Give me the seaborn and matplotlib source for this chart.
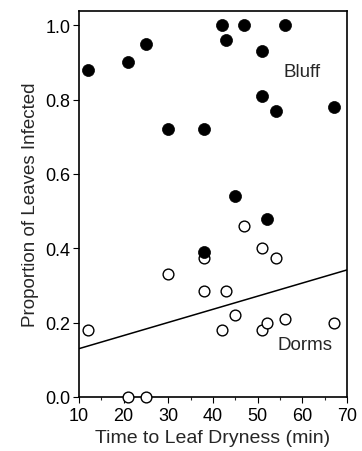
import pandas as pd
import matplotlib
matplotlib.use("Agg")
import matplotlib.pyplot as plt
import seaborn as sns
from matplotlib.ticker import MultipleLocator

# Bluff site (filled circles)
bluff_time = [12, 21, 25, 30, 38, 42, 43, 47, 56, 51, 51, 54, 67, 45, 52, 38]
bluff_prop = [0.88, 0.90, 0.95, 0.72, 0.72, 1.0, 0.96, 1.0, 1.0, 0.93, 0.81, 0.77, 0.78, 0.54, 0.48, 0.39]

# Dorms site (open circles)
dorms_time = [12, 21, 25, 30, 38, 38, 43, 42, 45, 47, 51, 54, 51, 52, 56, 67]
dorms_prop = [0.18, 0.0, 0.0, 0.33, 0.375, 0.285, 0.285, 0.18, 0.22, 0.46, 0.40, 0.375, 0.18, 0.20, 0.21, 0.20]

# regression line for Dorms
fit_x = [10, 70]
fit_y = [0.13, 0.342]

bluff = pd.DataFrame({"time": bluff_time, "prop": bluff_prop})
dorms = pd.DataFrame({"time": dorms_time, "prop": dorms_prop})

sns.set_style("ticks")
plt.rcParams["font.family"] = ["Liberation Sans", "DejaVu Sans"]

fig = plt.figure(figsize=(3.62, 4.52), dpi=100)
ax = fig.add_axes([0.218, 0.1195, 0.741, 0.8535])

sns.lineplot(x=fit_x, y=fit_y, ax=ax, color="black", linewidth=1.1)
sns.scatterplot(data=dorms, x="time", y="prop", ax=ax, s=60, facecolor="white",
                edgecolor="black", linewidth=1.0, zorder=3)
sns.scatterplot(data=bluff, x="time", y="prop", ax=ax, s=75, color="black",
                edgecolor="black", linewidth=0.5, zorder=4)

ax.text(60, 0.877, "Bluff", fontsize=13.5, ha="center", va="center")
ax.text(60.6, 0.142, "Dorms", fontsize=13.5, ha="center", va="center")

ax.set_xlim(10, 70)
ax.set_ylim(0, 1.038)
ax.set_xticks([10, 20, 30, 40, 50, 60, 70])
ax.xaxis.set_minor_locator(MultipleLocator(5))
ax.set_yticks([0.0, 0.2, 0.4, 0.6, 0.8, 1.0])
ax.set_yticklabels(["0.0", "0.2", "0.4", "0.6", "0.8", "1.0"])
ax.tick_params(axis="both", which="major", direction="out", length=4, width=0.8,
               labelsize=13, colors="black", pad=2)
ax.tick_params(axis="x", which="major", pad=3.5)
ax.tick_params(axis="x", which="minor", direction="out", length=2.5, width=0.8)
for sp in ax.spines.values():
    sp.set_linewidth(1.2)
    sp.set_color("black")
    sp.set_visible(True)
for coll in ax.collections:
    coll.set_clip_on(False)

ax.set_xlabel("Time to Leaf Dryness (min)", fontsize=14, labelpad=3)
ax.set_ylabel("Proportion of Leaves Infected", fontsize=13.5, labelpad=5)

fig.savefig("out.png", dpi=100)
